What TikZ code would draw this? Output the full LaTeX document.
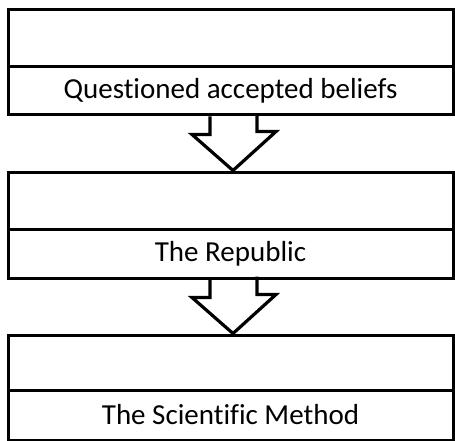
\documentclass[tikz,border=0pt]{standalone}
\usepackage{fontspec}
\setmainfont{Carlito}[Ligatures=NoCommon]
\usepackage{tikz}
\usetikzlibrary{calc}

\tikzset{
    boite/.style={draw, line width=3pt, minimum width=445pt, inner sep=0pt},
    fleche/.style={draw, line width=3.2pt, line join=miter}
}

\begin{document}
\begin{tikzpicture}[x=1pt, y=-1pt]
    \useasboundingbox (0,0) rectangle (455,441);
    % Boite 1
    \node[boite, minimum height=57pt] (haut1) at (230.5,38.5) {};
    \node[boite, minimum height=48pt, font=\fontsize{29}{34}\selectfont] (texte1) at (230.5,91) {Questioned accepted beliefs};
    % Boite 2
    \node[boite, minimum height=57pt] (haut2) at (230.5,200.5) {};
    \node[boite, minimum height=49pt, font=\fontsize{29}{34}\selectfont] (texte2) at (230.5,253.5) {The Republic};
    % Boite 3
    \node[boite, minimum height=55pt] (haut3) at (230.5,362.5) {};
    \node[boite, minimum height=50pt, font=\fontsize{29}{34}\selectfont] (texte3) at (230.5,415) {The Scientific Method};
    % Fleches
    \foreach \a/\b in {texte1/haut2, texte2/haut3}{
        \draw[fleche] ($(\a.south)+(-20.5,0)$) -- ++(0,18) -- ++(-18,0)
            -- ($(\b.north)+(2.5,0)$) -- ++(43,-39) -- ++(-19,0) -- ++(0,-18);
    }
\end{tikzpicture}
\end{document}
